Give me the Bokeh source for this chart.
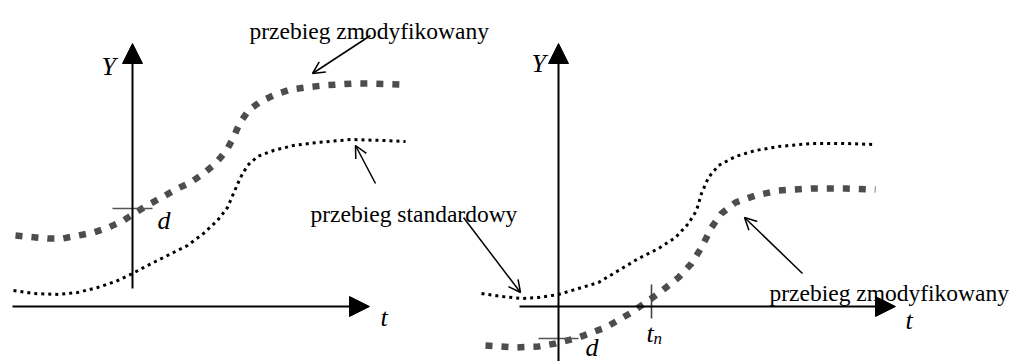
from bokeh.plotting import figure
from bokeh.models import Range1d, Arrow, NormalHead, OpenHead
from bokeh.embed import file_html
from bokeh.resources import INLINE
from bokeh.core.properties import value

# ---- data (in page pixel coordinates) ----
left_mod_x = [15, 47, 62, 78, 93, 108, 123, 135, 150, 163, 177, 190, 203, 215, 226, 233, 239, 248, 260, 275, 290, 305, 322, 337, 353, 370, 400, 405]
left_mod_y = [235, 238, 238, 235, 232, 227, 220, 212, 203, 196, 188, 182, 173, 163, 150, 137, 123, 110, 101, 94, 89, 87, 85, 84, 83, 83, 84, 84]

left_std_x = [13, 33, 58, 77, 97, 115, 132, 147, 167, 187, 203, 217, 227, 233, 240, 247, 257, 273, 293, 317, 350, 383, 405]
left_std_y = [290, 293, 294, 292, 287, 281, 273, 265, 255, 245, 233, 220, 207, 193, 177, 165, 156, 150, 145, 142, 139, 140, 141]

right_std_x = [481, 501, 521, 538, 558, 578, 598, 618, 638, 658, 675, 688, 696, 701, 708, 718, 735, 755, 778, 811, 845, 875]
right_std_y = [293, 296, 298, 297, 294, 288, 282, 270, 258, 248, 237, 223, 210, 193, 177, 165, 156, 150, 146, 143, 143, 144]

right_mod_x = [485, 515, 538, 555, 578, 605, 631, 658, 678, 691, 701, 711, 721, 735, 755, 778, 811, 845, 875]
right_mod_y = [345, 347, 346, 343, 337, 327, 312, 293, 277, 263, 247, 227, 213, 202, 195, 190, 188, 188, 189]

label_mod = "przebieg zmodyfikowany"
label_std = "przebieg standardowy"

SERIF = value("Liberation Serif")

p = figure(width=1014, height=361, x_range=Range1d(0, 1014), y_range=Range1d(361, 0),
           x_axis_type=None, y_axis_type=None, toolbar_location=None,
           output_backend="svg", min_border=0, outline_line_color=None)
p.grid.visible = False
p.background_fill_color = "white"

# curves
p.line(left_mod_x, left_mod_y, line_color="#4d4d4d", line_width=6.5, line_dash="7 9")
p.line(left_std_x, left_std_y, line_color="black", line_width=3, line_dash="3 4")
p.line(right_mod_x, right_mod_y, line_color="#4d4d4d", line_width=6.5, line_dash="7 9")
p.line(right_std_x, right_std_y, line_color="black", line_width=3, line_dash="3 4")

# axes of the diagrams
for (x0, y0, x1, y1) in [(132, 288, 132, 43), (12, 306, 369, 306),
                         (558, 361, 558, 43), (519, 306, 895, 306)]:
    p.add_layout(Arrow(end=NormalHead(size=20, fill_color="black", line_color="black", line_width=1),
                       x_start=x0, y_start=y0, x_end=x1, y_end=y1,
                       line_color="black", line_width=2))

# d marks and t_n mark
p.segment(x0=[112, 538], y0=[208, 338], x1=[152, 578], y1=[208, 338], line_color="#555555", line_width=1.6)
p.segment(x0=[651], y0=[284], x1=[651], y1=[318], line_color="#444444", line_width=1.6)

# annotation arrows
for (x0, y0, x1, y1) in [(370, 35, 312, 73), (375, 183, 355, 145),
                         (463, 217, 520, 292), (802, 273, 744, 217)]:
    p.add_layout(Arrow(end=OpenHead(size=12, line_width=1.5, line_color="black"),
                       x_start=x0, y_start=y0, x_end=x1, y_end=y1,
                       line_color="black", line_width=1.5))

# texts
p.text(x=[249, 769], y=[30, 292], text=[label_mod, label_mod], text_font=SERIF,
       text_font_size="23.5px", text_baseline="alphabetic", text_align="left", text_color="black")
p.text(x=[310], y=[213], text=[label_std], text_font=SERIF,
       text_font_size="23.5px", text_baseline="alphabetic", text_align="left", text_color="black")
p.text(x=[101, 531, 380, 905, 157, 585, 646], y=[66, 63, 317, 320, 220, 347, 333],
       text=["Y", "Y", "t", "t", "d", "d", "t"], text_font=SERIF, text_font_style="italic",
       text_font_size="26px", text_baseline="alphabetic", text_align="left", text_color="black")
p.text(x=[653], y=[338], text=["n"], text_font=SERIF, text_font_style="italic",
       text_font_size="17px", text_baseline="alphabetic", text_align="left", text_color="black")

open("out.html", "w").write(file_html(p, INLINE))
